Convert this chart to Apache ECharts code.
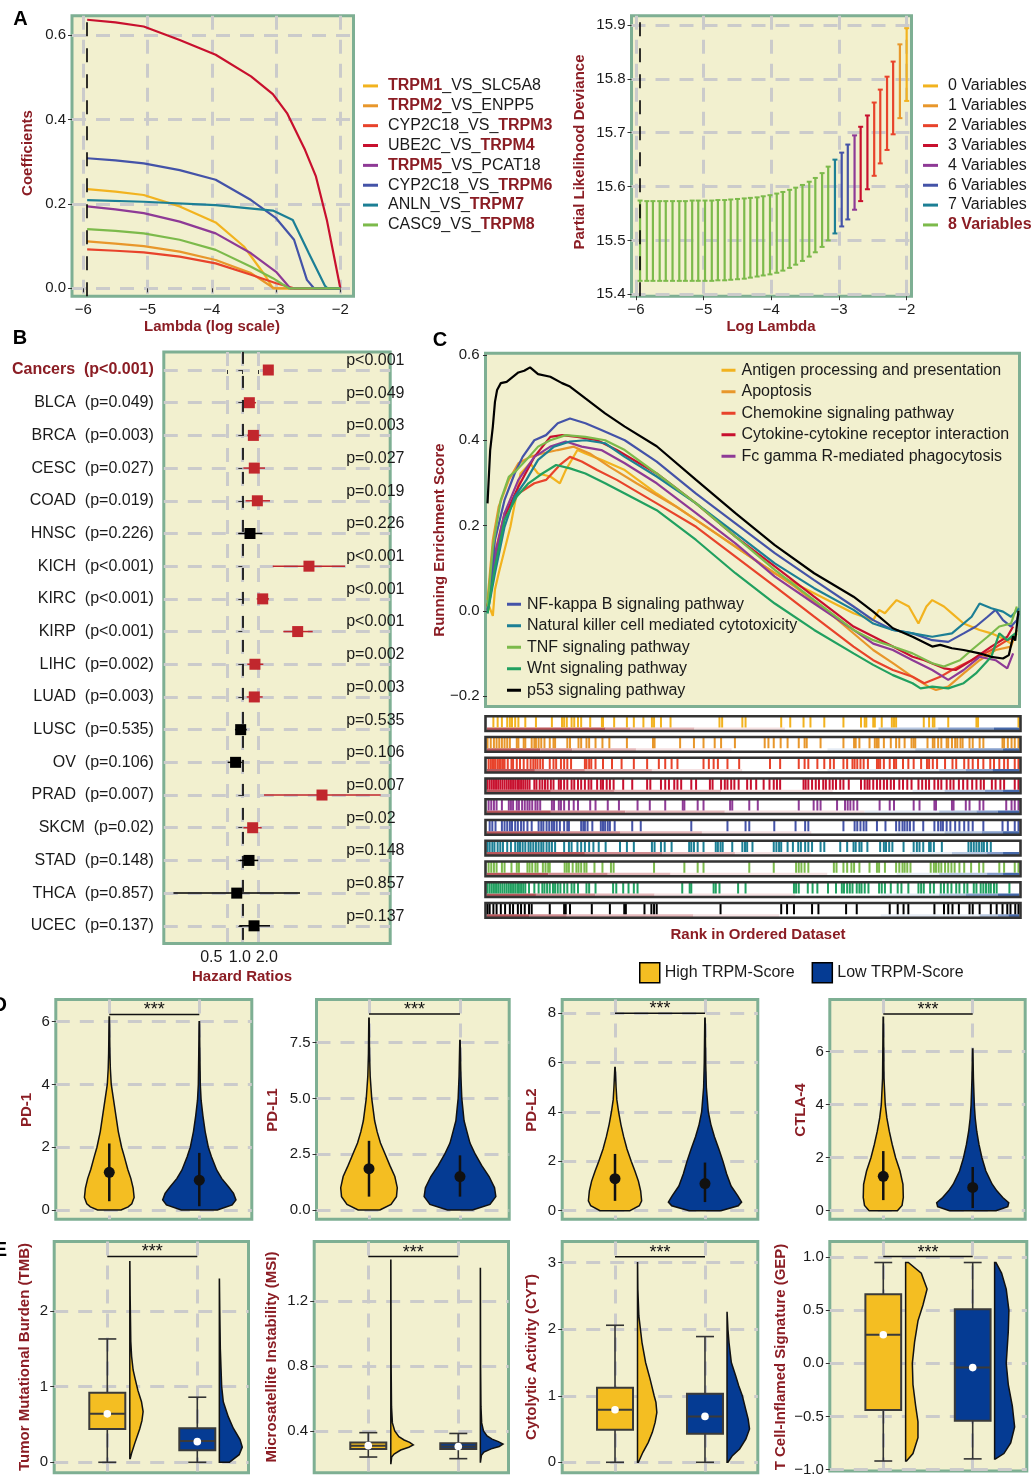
<!DOCTYPE html>
<html>
<head>
<meta charset="utf-8">
<title>TRPM figure</title>
<script src="https://cdn.jsdelivr.net/npm/echarts@6/dist/echarts.min.js"></script>
<style>
html,body{margin:0;padding:0;background:#ffffff;}
#chart{width:1034px;height:1477px;}
</style>
</head>
<body>
<div id="chart"></div>
<script>
/* ================= DATA ================= */
// ---- Panel A (left): LASSO coefficient paths [log(lambda), coefficient]
const coefNames = ['TRPM1_VS_SLC5A8','TRPM2_VS_ENPP5','CYP2C18_VS_TRPM3','UBE2C_VS_TRPM4','TRPM5_VS_PCAT18','CYP2C18_VS_TRPM6','ANLN_VS_TRPM7','CASC9_VS_TRPM8'];
const coefTRPM1 = [[-5.94,0.235],[-5.5,0.229],[-5.06,0.221],[-4.5,0.194],[-3.94,0.156],[-3.5,0.099],[-3.16,0.028],[-3.05,0],[-2,0]];
const coefTRPM2 = [[-5.94,0.111],[-5.5,0.106],[-5.06,0.100],[-4.5,0.087],[-3.94,0.067],[-3.39,0.036],[-3.05,0.002],[-3.0,0],[-2,0]];
const coefTRPM3 = [[-5.94,0.092],[-5.5,0.089],[-5.06,0.085],[-4.5,0.075],[-3.94,0.059],[-3.39,0.032],[-3.0,0.012],[-2.72,0],[-2,0]];
const coefTRPM4 = [[-5.94,0.636],[-5.5,0.630],[-5.06,0.620],[-4.5,0.588],[-3.94,0.553],[-3.39,0.502],[-3.05,0.460],[-2.83,0.415],[-2.55,0.328],[-2.38,0.265],[-2.21,0.162],[-2,0]];
const coefTRPM5 = [[-5.94,0.194],[-5.5,0.187],[-5.06,0.178],[-4.5,0.158],[-3.94,0.130],[-3.39,0.083],[-3.0,0.039],[-2.78,0],[-2,0]];
const coefTRPM6 = [[-5.94,0.308],[-5.5,0.303],[-5.06,0.296],[-4.5,0.280],[-3.94,0.257],[-3.39,0.209],[-3.0,0.166],[-2.72,0.115],[-2.52,0.020],[-2.41,0],[-2,0]];
const coefTRPM7 = [[-5.94,0.209],[-5.06,0.205],[-3.94,0.197],[-3.05,0.184],[-2.74,0.162],[-2.49,0.083],[-2.24,0.006],[-2.2,0],[-2,0]];
const coefTRPM8 = [[-5.94,0.140],[-5.5,0.136],[-5.06,0.130],[-4.5,0.115],[-3.94,0.091],[-3.39,0.051],[-3.05,0.024],[-2.8,0],[-2,0]];
const lambdaMin = -5.94;
const coefXTicks = [-6,-5,-4,-3,-2];
const coefYTicks = [0,0.2,0.4,0.6];

// ---- Panel A (right): cross-validation partial likelihood deviance
const cvLogLambda = [-5.94,-5.84,-5.75,-5.65,-5.56,-5.46,-5.36,-5.27,-5.17,-5.08,-4.98,-4.88,-4.79,-4.69,-4.60,-4.50,-4.40,-4.31,-4.21,-4.12,-4.02,-3.92,-3.83,-3.73,-3.64,-3.54,-3.44,-3.35,-3.25,-3.16,-3.06,-2.96,-2.87,-2.77,-2.68,-2.58,-2.48,-2.39,-2.29,-2.20,-2.10,-2.00];
const cvUpper = [15.574,15.573,15.573,15.573,15.573,15.573,15.573,15.573,15.574,15.574,15.574,15.574,15.575,15.575,15.576,15.577,15.578,15.579,15.580,15.582,15.584,15.587,15.590,15.594,15.598,15.603,15.609,15.616,15.625,15.637,15.650,15.663,15.678,15.695,15.711,15.732,15.756,15.780,15.804,15.832,15.864,15.894];
const cvLower = [15.425,15.425,15.425,15.425,15.425,15.425,15.425,15.425,15.425,15.425,15.425,15.425,15.426,15.426,15.427,15.428,15.429,15.431,15.433,15.435,15.437,15.440,15.444,15.449,15.455,15.462,15.470,15.478,15.488,15.500,15.513,15.526,15.539,15.557,15.573,15.595,15.620,15.643,15.668,15.697,15.727,15.759];
const cvNVars = [8,8,8,8,8,8,8,8,8,8,8,8,8,8,8,8,8,8,8,8,8,8,8,8,8,8,8,8,8,8,7,6,6,4,3,3,2,2,2,2,1,0];
const cvGroups = [0,1,2,3,4,6,7,8];
const cvYTicks = [15.4,15.5,15.6,15.7,15.8,15.9];

// ---- Panel B: forest plot
const forestNames = ['Cancers','BLCA','BRCA','CESC','COAD','HNSC','KICH','KIRC','KIRP','LIHC','LUAD','LUSC','OV','PRAD','SKCM','STAD','THCA','UCEC'];
const forestP = ['p<0.001','p=0.049','p=0.003','p=0.027','p=0.019','p=0.226','p<0.001','p<0.001','p<0.001','p=0.002','p=0.003','p=0.535','p=0.106','p=0.007','p=0.02','p=0.148','p=0.857','p=0.137'];
const forestHR   = [3.2,1.37,1.64,1.71,1.96,1.41,19.7,2.49,11.9,1.76,1.71,0.93,0.74,35.3,1.59,1.35,0.78,1.69];
const forestLow  = [2.64,1.09,1.25,1.05,1.16,0.84,3.9,1.90,6.26,1.25,1.22,0.72,0.52,2.64,1.05,0.90,0.046,0.87];
const forestHigh = [3.95,1.85,2.28,2.76,3.45,2.45,99,3.30,23.3,2.56,2.49,1.22,0.97,487,2.38,2.04,13.2,3.45];
const forestTickHR = [0.5,1,2];
const forestTickLabels = ['0.5','1.0','2.0'];

// ---- Panel C: GSEA running enrichment score [rank %, ES]
const gseaNames = ['Antigen processing and presentation','Apoptosis','Chemokine signaling pathway','Cytokine-cytokine receptor interaction','Fc gamma R-mediated phagocytosis','NF-kappa B signaling pathway','Natural killer cell mediated cytotoxicity','TNF signaling pathway','Wnt signaling pathway','p53 signaling pathway'];
const gseaAntigen = [[0.1,0.02],[1.1,-0.012],[1.5,0.05],[2.2,0.088],[4.4,0.197],[6.3,0.322],[8.1,0.346],[9.6,0.322],[11.9,0.315],[13.7,0.299],[14.8,0.33],[17.0,0.377],[18.5,0.369],[21.5,0.354],[25.9,0.33],[31.9,0.275],[39.3,0.213],[46.7,0.150],[54.1,0.088],[61.5,0.041],[68.9,-0.006],[72.6,-0.022],[73.7,0.002],[74.8,-0.006],[75.9,0.01],[77.0,0.025],[79.3,0.01],[81.1,-0.03],[82.6,0.01],[83.7,0.025],[85.9,0.01],[87.4,-0.006],[89.6,-0.03],[92.6,-0.045],[94.8,-0.053],[97.0,-0.065],[98.5,-0.077],[99.6,-0.053]];
const gseaApoptosis = [[0.1,0.025],[1.1,0.166],[2.2,0.244],[4.1,0.307],[5.9,0.346],[8.1,0.361],[10.4,0.369],[13.3,0.377],[16.3,0.385],[19.3,0.369],[23.0,0.338],[28.1,0.299],[35.6,0.244],[43.0,0.182],[50.4,0.119],[57.8,0.057],[65.2,-0.014],[72.6,-0.092],[76.3,-0.123],[80.0,-0.155],[83.0,-0.178],[84.4,-0.186],[86.7,-0.178],[89.6,-0.147],[92.6,-0.116],[95.6,-0.092],[98.5,-0.084],[99.6,-0.045]];
const gseaChemokine = [[0.1,0.01],[1.5,0.135],[3.3,0.229],[5.9,0.275],[8.9,0.299],[11.1,0.307],[13.7,0.342],[15.6,0.361],[17.8,0.35],[20.7,0.33],[24.4,0.307],[31.9,0.252],[39.3,0.197],[46.7,0.127],[54.1,0.057],[61.5,-0.014],[68.9,-0.084],[72.6,-0.116],[76.3,-0.139],[80.0,-0.155],[82.2,-0.170],[85.2,-0.155],[87.4,-0.139],[91.1,-0.116],[94.8,-0.092],[97.8,-0.069],[99.3,-0.061]];
const gseaCytokine = [[0.1,0.01],[1.5,0.119],[3.3,0.221],[5.9,0.291],[8.9,0.361],[11.9,0.408],[14.1,0.412],[17.0,0.408],[20.7,0.40],[24.4,0.377],[31.9,0.322],[39.3,0.252],[46.7,0.174],[54.1,0.104],[61.5,0.033],[68.9,-0.037],[76.3,-0.084],[80.0,-0.108],[82.2,-0.116],[85.9,-0.135],[88.1,-0.139],[91.1,-0.116],[94.8,-0.084],[97.8,-0.061],[98.9,-0.037]];
const gseaFc = [[0.1,0.002],[1.5,0.127],[3.3,0.229],[5.9,0.307],[8.9,0.361],[11.9,0.385],[14.8,0.397],[17.8,0.385],[21.5,0.377],[25.9,0.346],[31.9,0.299],[39.3,0.229],[46.7,0.158],[54.1,0.08],[61.5,0.017],[68.9,-0.045],[72.6,-0.077],[76.3,-0.092],[80.0,-0.116],[83.7,-0.139],[86.7,-0.162],[89.6,-0.139],[92.6,-0.108],[95.6,-0.116],[97.8,-0.135],[98.9,-0.10]];
const gseaNFkB = [[0.1,0.0],[0.4,0.025],[1.5,0.166],[3.3,0.26],[5.2,0.322],[6.7,0.361],[8.9,0.40],[11.1,0.412],[13.3,0.44],[15.6,0.451],[18.5,0.44],[21.5,0.424],[25.9,0.40],[31.9,0.35],[39.3,0.275],[46.7,0.205],[54.1,0.135],[61.5,0.072],[68.9,0.01],[72.6,-0.022],[76.3,-0.045],[80.0,-0.053],[83.7,-0.069],[86.7,-0.073],[89.6,-0.053],[91.9,-0.037],[94.1,-0.014],[95.6,0.002],[97.0,-0.022],[98.5,-0.037],[99.6,-0.022],[100,-0.006]];
const gseaNK = [[0.1,-0.006],[1.5,0.088],[3.3,0.197],[5.2,0.268],[7.4,0.307],[9.6,0.354],[12.6,0.385],[15.6,0.397],[18.5,0.40],[22.2,0.393],[25.9,0.361],[31.9,0.315],[39.3,0.252],[46.7,0.182],[54.1,0.111],[61.5,0.053],[68.9,0.002],[72.6,-0.03],[76.3,-0.045],[80.0,-0.053],[83.7,-0.061],[87.4,-0.053],[91.1,-0.014],[92.6,0.017],[94.8,0.006],[97.0,-0.002],[98.5,-0.014],[100,0.006]];
const gseaTNF = [[0.1,0.01],[1.1,0.15],[2.6,0.26],[4.1,0.314],[5.6,0.33],[7.4,0.354],[9.6,0.385],[11.9,0.40],[14.8,0.412],[18.5,0.408],[22.2,0.40],[25.9,0.377],[31.9,0.322],[39.3,0.252],[46.7,0.174],[54.1,0.096],[61.5,0.025],[68.9,-0.045],[72.6,-0.069],[76.3,-0.084],[80.0,-0.10],[83.7,-0.123],[85.9,-0.131],[88.9,-0.116],[91.1,-0.092],[94.1,-0.061],[96.3,-0.037],[98.5,-0.03],[99.6,0.01]];
const gseaWnt = [[0.1,-0.006],[1.5,0.103],[3.3,0.213],[5.6,0.268],[7.8,0.299],[10.4,0.322],[13.0,0.342],[15.6,0.334],[18.5,0.322],[22.2,0.299],[25.9,0.275],[31.9,0.236],[39.3,0.166],[46.7,0.088],[54.1,0.017],[61.5,-0.045],[68.9,-0.10],[72.6,-0.127],[76.3,-0.151],[80.0,-0.17],[81.5,-0.182],[83.7,-0.178],[86.7,-0.182],[89.6,-0.17],[91.9,-0.147],[94.8,-0.108],[96.3,-0.053],[97.8,-0.069],[99.3,-0.053]];
const gseaP53 = [[0.1,0.252],[0.6,0.377],[1.1,0.432],[1.5,0.49],[1.9,0.518],[2.6,0.534],[3.7,0.537],[4.8,0.548],[5.9,0.559],[7.0,0.563],[8.1,0.571],[9.6,0.555],[11.9,0.549],[14.1,0.534],[15.6,0.526],[18.5,0.498],[22.2,0.463],[25.9,0.432],[31.9,0.386],[39.3,0.307],[46.7,0.229],[54.1,0.154],[61.5,0.088],[68.9,0.033],[72.6,-0.002],[76.3,-0.041],[80.0,-0.061],[83.7,-0.084],[85.2,-0.080],[87.4,-0.088],[89.6,-0.092],[92.6,-0.100],[94.8,-0.108],[97.0,-0.112],[98.1,-0.104],[98.9,-0.06],[99.3,-0.07],[99.9,0.0]];
const gseaYTicks = [-0.2,0,0.2,0.4,0.6];

// gene-set hit positions (rank %) in the rug strips
const hitsAntigen = [1.2,2.0,2.8,3.8,4.3,4.7,5.3,5.9,7.2,9.2,12.2,14.1,14.5,15.0,15.9,16.4,17.1,17.7,19.4,21.6,21.8,23.9,26.3,27.6,29.4,31.0,31.4,32.7,34.5,43.7,44.2,48.0,48.6,55.3,57.0,59.5,60.8,63.4,67.0,70.3,71.0,71.3,72.6,72.9,74.2,76.1,76.5,76.9,82.1,83.1,83.8,84.1,86.7,92.0,92.3,99.9];
const hitsApoptosis = [0.1,0.7,1.3,1.8,2.3,2.8,3.3,3.8,4.3,5.6,5.9,6.9,7.2,8.4,8.9,9.2,9.7,10.2,10.8,11.8,12.5,12.8,15.1,15.6,17.2,17.7,18.7,19.2,20.4,21.7,23.0,26.3,31.2,31.5,36.3,38.9,40.7,42.8,44.0,46.6,52.2,52.9,53.9,55.2,56.5,58.6,59.7,60.1,62.7,67.0,69.0,69.3,70.0,71.9,72.9,73.3,73.6,74.6,75.9,76.9,77.5,78.5,79.8,80.2,80.5,82.8,83.8,84.1,84.8,85.4,86.4,86.7,87.4,88.0,88.4,89.0,89.4,90.7,91.3,92.6,93.3,96.9,97.2,97.9,98.6,99.2,99.9];
const hitsChemokine = [0.3,0.7,1.0,1.3,1.6,2.0,2.3,2.6,3.0,3.3,3.9,4.6,4.9,5.6,6.2,6.9,7.6,8.2,8.7,9.1,9.5,10.0,10.5,11.8,12.5,13.0,13.9,14.5,15.1,15.8,18.4,18.7,19.2,19.6,20.4,21.8,23.5,25.3,27.6,30.1,32.3,33.5,34.7,35.8,40.7,41.7,42.6,43.4,45.2,47.4,53.2,55.1,58.6,59.7,60.4,62.1,63.4,64.5,65.2,67.0,67.7,68.7,69.1,69.6,70.2,70.8,71.6,73.3,73.6,73.9,74.6,75.7,76.5,76.9,78.2,79.2,80.2,81.6,82.7,83.1,83.8,84.6,86.1,87.5,88.2,89.7,90.5,91.3,92.3,93.3,94.6,95.3,96.3,97.2,97.9,99.2,99.9];
const hitsCytokine = [0.1,0.5,0.9,1.3,1.7,2.1,2.5,2.9,3.3,3.7,4.1,4.5,4.9,5.3,5.7,6.0,6.4,6.8,7.2,7.6,8.0,8.9,9.3,9.9,10.4,10.9,11.4,12.0,12.5,13.5,13.9,14.5,15.1,15.9,16.4,17.1,17.7,18.4,19.1,19.6,20.7,21.4,21.8,22.5,23.1,23.8,25.6,27.3,30.1,30.7,32.7,33.5,34.2,35.2,35.8,36.5,38.4,39.3,41.9,42.4,44.0,44.7,45.2,45.9,46.5,47.3,48.9,49.6,50.6,52.0,53.1,53.9,54.5,55.1,59.5,59.9,60.4,61.1,61.8,62.4,63.2,63.7,64.4,65.0,65.6,66.4,67.0,68.0,70.3,71.0,71.5,71.9,72.6,73.3,73.9,74.6,75.2,75.9,76.5,77.5,78.2,79.0,79.8,81.1,81.8,82.5,83.1,84.1,84.8,85.4,86.4,87.1,87.7,88.7,89.5,90.3,91.2,92.0,92.8,93.4,94.9,95.6,96.5,97.2,99.2,99.9];
const hitsFc = [0.3,0.8,1.3,1.8,2.8,4.1,4.5,4.9,5.6,6.0,6.6,7.1,7.6,8.0,8.5,9.1,9.5,10.0,12.2,12.6,13.5,13.9,14.5,15.4,16.3,17.1,19.4,20.4,22.7,24.8,28.3,30.6,33.5,36.8,37.1,39.6,40.7,45.7,46.1,49.3,50.9,58.6,61.4,62.1,62.7,65.8,67.3,67.8,68.3,68.9,69.6,73.8,75.7,76.5,80.2,81.3,84.1,84.4,87.4,87.7,90.0,90.7,92.6,93.3,97.6,98.6,99.2,99.9];
const hitsNFkB = [0.5,1.0,1.6,2.8,3.3,3.8,4.3,4.7,5.3,5.8,6.4,6.9,7.6,8.4,9.7,10.2,10.6,11.2,11.7,12.2,12.6,13.1,13.7,14.5,15.1,15.4,17.7,18.1,18.4,18.9,19.8,21.4,21.8,22.2,22.7,23.1,24.0,27.3,28.9,38.4,45.2,48.6,49.3,54.0,58.0,59.8,60.4,67.0,69.1,69.6,70.2,70.8,71.3,73.3,74.9,76.9,77.5,78.1,78.5,79.0,79.5,80.2,82.0,84.1,84.8,85.3,85.7,86.4,87.1,88.0,88.8,89.7,90.5,91.3,93.3,96.9,97.9,99.2,99.9];
const hitsNK = [0.1,0.5,1.0,1.4,2.0,2.5,3.0,3.8,4.5,5.3,5.8,6.2,6.7,7.2,7.8,8.2,8.7,9.2,9.7,10.2,10.6,11.2,11.7,12.2,12.8,14.5,15.4,15.9,17.0,17.7,18.4,19.2,20.0,21.0,22.3,25.0,26.3,27.6,31.0,31.5,32.7,33.4,34.7,38.0,38.4,38.9,39.6,40.7,43.0,43.4,43.9,44.3,46.1,48.0,48.5,48.9,49.9,53.9,54.4,54.9,55.3,56.5,57.5,58.5,59.0,59.8,60.4,61.1,62.7,63.4,66.4,67.7,68.9,69.3,70.0,70.4,71.5,73.9,74.6,75.0,75.6,76.2,78.3,80.2,80.8,81.3,82.0,83.1,83.4,84.0,85.5,90.5,91.0,91.5,92.0,92.5,93.0,93.4,94.0,94.7];
const hitsTNF = [0.3,0.8,1.3,1.8,2.8,3.3,4.6,5.6,6.0,7.6,8.0,8.5,9.1,9.5,10.5,11.0,11.5,11.8,14.6,15.0,15.4,16.1,16.8,17.2,17.7,18.3,18.7,20.2,21.7,23.3,23.8,31.4,37.1,39.6,40.7,49.3,53.9,58.1,58.6,59.1,59.7,60.4,65.2,65.7,67.0,67.7,68.5,69.0,70.0,71.9,73.3,73.7,74.8,76.9,77.5,78.1,78.5,79.0,79.6,83.4,84.0,84.4,84.9,85.4,86.1,86.7,87.3,87.9,88.8,89.7,91.0,92.5,93.3,96.3,97.2,99.2,99.9];
const hitsWnt = [0.1,0.5,0.9,1.3,1.7,2.1,2.5,2.9,3.3,3.7,4.1,4.5,4.9,5.3,5.7,6.0,6.4,6.8,7.2,7.9,8.9,9.7,10.4,10.8,11.3,11.8,12.4,12.8,13.3,13.8,14.5,15.1,15.9,16.4,17.1,18.7,19.2,20.4,23.7,24.3,25.6,26.6,27.6,28.3,36.7,38.1,38.4,42.6,43.0,43.7,47.2,48.6,57.7,58.1,58.6,60.3,61.2,62.1,64.1,65.6,66.7,67.1,67.7,68.2,68.7,69.5,70.0,70.4,71.0,71.7,73.7,74.2,74.8,75.9,77.2,77.9,79.2,81.1,81.6,82.1,83.3,84.0,85.3,85.9,86.6,87.3,88.2,88.8,89.7,90.3,91.5,92.0,92.8,93.3,93.8,94.3,94.7,95.3,95.8,98.2];
const hitsP53 = [0.1,0.5,1.2,1.8,2.6,3.4,4.3,4.9,5.8,6.4,7.1,7.9,8.4,11.8,14.5,14.8,15.6,19.7,23.1,25.8,26.1,29.6,30.9,31.4,31.9,43.9,55.3,56.4,57.7,61.1,62.3,67.5,69.5,75.7,77.2,78.3,79.2,84.1,85.9,86.7,87.5,88.7,90.7,91.3,92.6,94.7,95.8,96.9,97.8,98.4,99.3,99.9];
// ranked-list shading: end (rank %) of each of the 9 shades, per strip
const rugShadeBreaks = [
  [22.3,27,39,56,73.6,73.6,84.8,95.3],
  [10,16,28,46,64,80.5,90.7,97],
  [9,18.4,31,48,64,85,90,95],
  [12,24,44,65,80,86,93.6,97],
  [12,26,44.7,71,71,85,92,96],
  [13.8,25,40.4,61,77,86,93,97],
  [18.4,33,46.6,61,79.5,87.4,94,97],
  [11.5,22.7,34.5,64,77,85,94,97],
  [9.2,20.4,31.5,58,74,85,90,96],
  [7.9,15,38.8,55,74,92.6,96,98]
];

// ---- Panel D: immune checkpoints, violins [value, half-width]; stats [median, low, high]
const groupNames = ['High TRPM-Score','Low TRPM-Score'];
const pd1HighDens = [[0,0.13],[0.1,0.21],[0.2,0.25],[0.4,0.276],[0.7,0.265],[1.0,0.24],[1.3,0.205],[1.7,0.167],[2.0,0.137],[2.5,0.1],[3.0,0.074],[3.5,0.048],[4.0,0.022],[4.5,0.012],[5.0,0.007],[6.15,0.002]];
const pd1LowDens = [[0,0.2],[0.16,0.365],[0.32,0.407],[0.53,0.38],[0.74,0.324],[1.0,0.25],[1.27,0.194],[1.7,0.135],[2.0,0.1],[2.5,0.065],[3.0,0.04],[3.5,0.02],[4.0,0.011],[5.0,0.006],[6.0,0.002]];
const pdl1HighDens = [[0,0.119],[0.25,0.242],[0.6,0.302],[1.0,0.311],[1.5,0.284],[2.0,0.229],[2.5,0.178],[3.0,0.126],[3.5,0.09],[4.0,0.062],[5.0,0.03],[6.0,0.013],[7.0,0.006],[8.6,0.002]];
const pdl1LowDens = [[0,0.137],[0.25,0.33],[0.6,0.394],[1.0,0.38],[1.5,0.32],[2.0,0.238],[2.5,0.168],[3.0,0.11],[3.5,0.077],[4.0,0.045],[5.0,0.02],[6.0,0.01],[7.6,0.002]];
const pdl2HighDens = [[0,0.167],[0.2,0.27],[0.4,0.296],[0.8,0.285],[1.2,0.26],[1.6,0.222],[2.0,0.18],[2.5,0.133],[3.0,0.096],[3.5,0.065],[4.0,0.04],[4.5,0.02],[5.0,0.012],[5.8,0.002]];
const pdl2LowDens = [[0,0.176],[0.2,0.37],[0.35,0.407],[0.6,0.365],[1.0,0.29],[1.5,0.24],[2.0,0.2],[2.5,0.154],[3.0,0.105],[3.5,0.065],[4.0,0.037],[5.0,0.015],[6.0,0.008],[7.8,0.002]];
const ctla4HighDens = [[0,0.158],[0.2,0.21],[0.5,0.224],[1.0,0.22],[1.5,0.187],[2.0,0.138],[2.5,0.1],[3.0,0.067],[3.5,0.04],[4.0,0.022],[5.0,0.008],[7.3,0.002]];
const ctla4LowDens = [[0,0.26],[0.15,0.392],[0.3,0.403],[0.5,0.336],[0.75,0.27],[1.0,0.218],[1.5,0.147],[2.0,0.103],[2.5,0.07],[3.0,0.045],[3.5,0.028],[4.0,0.018],[5.0,0.008],[6.1,0.002]];
const pd1HighStat = [1.2,0.28,2.12],   pd1LowStat = [0.95,0.12,1.82];
const pdl1HighStat = [1.85,0.6,3.1],   pdl1LowStat = [1.5,0.6,2.45];
const pdl2HighStat = [1.3,0.4,2.3],    pdl2LowStat = [1.1,0.35,1.95];
const ctla4HighStat = [1.3,0.4,2.25],  ctla4LowStat = [0.88,0.1,1.65];
const immuneNames = ['PD-1','PD-L1','PD-L2','CTLA-4'];
const immuneSig = [6.23,8.79,8.0,7.42];
const pd1Ticks = [0,2,4,6], pdl1Ticks = [0,2.5,5,7.5], pdl2Ticks = [0,2,4,6,8], ctla4Ticks = [0,2,4,6];

// ---- Panel E: immunotherapy scores, box [lowWhisker, Q1, median, Q3, highWhisker, mean]; half violins [value, width]
const tmbHighBox = [0,0.44,0.64,0.92,1.63,0.64],     tmbLowBox = [0,0.16,0.28,0.45,0.86,0.273];
const msiHighBox = [0.24,0.29,0.31,0.33,0.39,0.31],  msiLowBox = [0.23,0.29,0.305,0.325,0.385,0.305];
const cytHighBox = [0,0.49,0.79,1.12,2.06,0.79],     cytLowBox = [0,0.43,0.69,1.03,1.89,0.69];
const gepHighBox = [-0.92,-0.44,0.27,0.65,0.95,0.27], gepLowBox = [-0.9,-0.54,-0.04,0.51,0.95,-0.04];
const tmbHighDens = [[0.05,0.005],[0.12,0.02],[0.25,0.055],[0.44,0.11],[0.55,0.135],[0.67,0.148],[0.8,0.13],[0.95,0.09],[1.1,0.06],[1.22,0.037],[1.4,0.02],[1.6,0.011],[2.2,0.004],[2.65,0.001]];
const tmbLowDens = [[0,0.11],[0.1,0.22],[0.2,0.255],[0.3,0.23],[0.45,0.155],[0.6,0.1],[0.8,0.044],[1.0,0.026],[1.5,0.011],[2.0,0.005],[2.42,0.001]];
const msiHighDens = [[0.2,0.002],[0.24,0.01],[0.258,0.037],[0.283,0.11],[0.3,0.2],[0.314,0.25],[0.33,0.21],[0.345,0.148],[0.365,0.09],[0.4,0.044],[0.45,0.018],[0.55,0.008],[0.8,0.004],[1.45,0.001]];
const msiLowDens = [[0.21,0.002],[0.25,0.012],[0.27,0.04],[0.29,0.12],[0.305,0.21],[0.32,0.252],[0.335,0.2],[0.35,0.13],[0.37,0.075],[0.4,0.035],[0.45,0.015],[0.55,0.007],[0.8,0.003],[1.4,0.001]];
const cytHighDens = [[0,0.01],[0.15,0.06],[0.3,0.12],[0.45,0.165],[0.6,0.196],[0.75,0.215],[0.9,0.205],[1.0,0.185],[1.25,0.14],[1.5,0.09],[1.8,0.05],[2.2,0.015],[2.6,0.004],[3.0,0.001]];
const cytLowDens = [[0,0.01],[0.1,0.06],[0.2,0.14],[0.35,0.21],[0.5,0.25],[0.65,0.235],[0.8,0.207],[1.0,0.17],[1.15,0.13],[1.3,0.096],[1.5,0.048],[1.8,0.022],[2.0,0.01],[2.25,0.001]];
const gepHighDens = [[-0.92,0.01],[-0.85,0.082],[-0.7,0.138],[-0.55,0.138],[-0.4,0.112],[-0.2,0.082],[0,0.075],[0.2,0.1],[0.4,0.138],[0.55,0.194],[0.7,0.24],[0.85,0.175],[0.95,0.03]];
const gepLowDens = [[-0.9,0.01],[-0.85,0.104],[-0.75,0.18],[-0.6,0.224],[-0.4,0.198],[-0.2,0.153],[0,0.13],[0.3,0.153],[0.5,0.16],[0.7,0.13],[0.85,0.078],[0.95,0.015]];
const scoreNames = ['Tumor Mutational Burden (TMB)','Microsatellite Instability (MSI)','Cytolytic Activity (CYT)','T Cell-Inflamed Signature (GEP)'];
const scoreSig = [2.72,1.473,3.09,1.006];
const tmbTicks = [0,1,2], msiTicks = [0.4,0.8,1.2], cytTicks = [0,1,2,3], gepTicks = [-1,-0.5,0,0.5,1];

/* ================= STYLE ================= */
const FF = '"Liberation Sans", Arial, Helvetica, sans-serif';
const TXT = '#1a1a1a';
const TITLE = '#8b1d24';
const PANEL_BG = '#f2f0cf';
const PANEL_BORDER = '#7eaf93';
const GRIDLINE = '#cbcbcb';
const YEL = '#f4be22', BLU = '#053b93';
const pathColors = ['#f2b31f','#e8972b','#e8432b','#c8102e','#8e3a96','#4453a8','#1c7f95','#7cba4b'];
const gseaColors = ['#f2b31f','#e8972b','#e8432b','#c8102e','#8e3a96','#4453a8','#1c7f95','#7cba4b','#21a060','#000000'];
const shadePalette = ['#b9565b','#d28c90','#e6b9bb','#f5e1e2','#ffffff','#e6ecf5','#b8c8e1','#87a0cd','#4669aa'];

const fmtN = d => v => (v < -1e-9 ? '\u2212' : '') + Math.abs(v).toFixed(d);
const dashed = {color: GRIDLINE, width: 3, type: [14, 10]};

function gridBox(left, top, width, height, show) {
  return {left, top, width, height, show: show !== false, backgroundColor: PANEL_BG, borderColor: PANEL_BORDER, borderWidth: 3, containLabel: false};
}
function axis(gi, min, max, ticks, fmt, opt) {
  opt = opt || {};
  return {
    type: 'value', gridIndex: gi, min, max, inverse: !!opt.inverse,
    axisLine: {show: false},
    axisTick: {show: opt.tick !== false, length: 4, lineStyle: {color: '#333', width: 1}, customValues: ticks},
    axisLabel: {show: opt.label !== false, customValues: ticks, formatter: fmt, color: TXT, fontSize: opt.fontSize || 15, margin: opt.margin || 6, fontFamily: FF, rich: opt.rich},
    splitLine: {show: opt.split !== false, lineStyle: dashed}
  };
}
function hidden(gi, min, max, inverse) {
  return {type: 'value', gridIndex: gi, min, max, inverse: !!inverse, show: false, axisLine:{show:false}, axisTick:{show:false}, axisLabel:{show:false}, splitLine:{show:false}};
}

/* ================= GRIDS & AXES ================= */
const grids = [
  gridBox(72, 15.8, 281.5, 280.4),       // 0 A left
  gridBox(631.5, 15.8, 280, 280.4),      // 1 A right
  gridBox(163.8, 351.9, 226.4, 591.6),   // 2 B
  gridBox(485.5, 353.2, 534, 353.3),     // 3 C
  gridBox(487, 714.5, 532, 207.5, false),// 4 C rugs
  gridBox(55.8, 999.5, 196, 219.7),      // 5 D1
  gridBox(316.5, 999.5, 192.7, 219.7),   // 6 D2
  gridBox(562.2, 999.5, 195.6, 219.7),   // 7 D3
  gridBox(829.8, 999.5, 195.4, 219.7),   // 8 D4
  gridBox(54.2, 1241.5, 194.3, 231.3),   // 9 E1
  gridBox(314.2, 1241.5, 194.3, 231.3),  // 10 E2
  gridBox(562.2, 1241.5, 195.6, 231.3),  // 11 E3
  gridBox(829.8, 1241.5, 197, 231.3)     // 12 E4
];

const forestTickVals = forestTickHR.map(h => Math.log2(h));
const rowIdx = forestNames.map((n, i) => i);
const xAxes = [
  axis(0, -6.176, -1.795, coefXTicks, fmtN(0)),
  axis(1, -6.0665, -1.9286, coefXTicks, fmtN(0)),
  axis(2, -5.065, 9.542, forestTickVals, v => {
      const i = forestTickVals.findIndex(t => Math.abs(t - v) < 1e-9);
      return '{t' + i + '|' + forestTickLabels[i] + '}';
    }, {fontSize: 16, margin: 6, rich: {
      t0: {fontSize: 16, fontFamily: FF, color: TXT, padding: [0, 31, 0, 0]},
      t1: {fontSize: 16, fontFamily: FF, color: TXT, padding: [0, 5, 0, 0]},
      t2: {fontSize: 16, fontFamily: FF, color: TXT, padding: [0, 0, 0, 18]}}}),
  hidden(3, -0.28, 100.1),
  hidden(4, 0, 100),
  axis(5, 0.406, 2.583, [1,2], null, {tick:false, label:false}),
  axis(6, 0.423, 2.541, [1,2], null, {tick:false, label:false}),
  axis(7, 0.413, 2.587, [1,2], null, {tick:false, label:false}),
  axis(8, 0.402, 2.587, [1,2], null, {tick:false, label:false}),
  axis(9, 0.41, 2.569, [1,2], null, {tick:false, label:false}),
  axis(10, 0.399, 2.558, [1,2], null, {tick:false, label:false}),
  axis(11, 0.413, 2.587, [1,2], null, {tick:false, label:false}),
  axis(12, 0.402, 2.605, [1,2], null, {tick:false, label:false})
];
const yAxes = [
  axis(0, -0.0187, 0.6454, coefYTicks, fmtN(1)),
  axis(1, 15.3965, 15.917, cvYTicks, fmtN(1)),
  axis(2, -0.554, 17.541, rowIdx, v => {
      const i = Math.round(v);
      const s = forestNames[i] + '  (' + forestP[i] + ')';
      return i === 0 ? '{r|' + s + '}' : s;
    }, {inverse: true, fontSize: 16, margin: 10, rich: {r: {fontSize: 16, fontFamily: FF, fontWeight: 'bold', color: TITLE}}}),
  axis(3, -0.2246, 0.6042, gseaYTicks, fmtN(1), {split: false}),
  hidden(4, 0, 10, true),
  axis(5, -0.293, 6.708, pd1Ticks, fmtN(0)),
  axis(6, -0.412, 9.435, pdl1Ticks, fmtN(1)),
  axis(7, -0.344, 8.559, pdl2Ticks, fmtN(0)),
  axis(8, -0.32, 7.97, ctla4Ticks, fmtN(0)),
  axis(9, -0.139, 2.918, tmbTicks, fmtN(0)),
  axis(10, 0.143, 1.566, msiTicks, fmtN(1)),
  axis(11, -0.158, 3.319, cytTicks, fmtN(0)),
  axis(12, -1.014, 1.148, gepTicks, fmtN(1))
];

/* ================= SERIES ================= */
const series = [];
const blackDash = {color: '#000', width: 1.6, type: [14, 12]};

// A left
const coefPaths = [coefTRPM1, coefTRPM2, coefTRPM3, coefTRPM4, coefTRPM5, coefTRPM6, coefTRPM7, coefTRPM8];
coefNames.forEach((n, i) => {
  const s = {type: 'line', name: n, xAxisIndex: 0, yAxisIndex: 0, data: coefPaths[i], symbol: 'none', showSymbol: false,
    lineStyle: {color: pathColors[i], width: 2.2}, itemStyle: {color: pathColors[i]}, silent: true, z: 3};
  if (i === 0) s.markLine = {symbol: 'none', silent: true, label: {show: false}, lineStyle: blackDash, data: [{xAxis: lambdaMin}]};
  series.push(s);
});

// A right
const cvNames = cvGroups.map(g => g + ' Variables');
cvGroups.forEach((g, gi) => {
  const data = [];
  cvLogLambda.forEach((x, i) => { if (cvNVars[i] === g) data.push([x, cvLower[i], cvUpper[i]]); });
  const c = pathColors[gi];
  const s = {type: 'custom', name: cvNames[gi], xAxisIndex: 1, yAxisIndex: 1, itemStyle: {color: c}, encode: {x: 0, y: [1, 2]}, data, silent: true, z: 3,
    renderItem: (params, api) => {
      const top = api.coord([api.value(0), api.value(2)]);
      const bot = api.coord([api.value(0), api.value(1)]);
      return {type: 'group', children: [
        {type: 'line', shape: {x1: top[0], y1: top[1], x2: bot[0], y2: bot[1]}, style: {stroke: c, lineWidth: 2.2}},
        {type: 'line', shape: {x1: top[0] - 2.5, y1: top[1], x2: top[0] + 2.5, y2: top[1]}, style: {stroke: c, lineWidth: 2}},
        {type: 'line', shape: {x1: bot[0] - 2.5, y1: bot[1], x2: bot[0] + 2.5, y2: bot[1]}, style: {stroke: c, lineWidth: 2}}
      ]};
    }};
  if (gi === 0) s.markLine = {symbol: 'none', silent: true, label: {show: false}, lineStyle: blackDash, data: [{xAxis: lambdaMin}]};
  series.push(s);
});

// B forest
const forestSig = forestP.map(p => parseFloat(p.slice(2)) < 0.05);
series.push({
  type: 'custom', xAxisIndex: 2, yAxisIndex: 2, silent: true, z: 3, clip: false,
  encode: {x: 0, y: 1},
  data: forestNames.map((n, i) => [Math.log2(forestHR[i]), i, Math.log2(forestLow[i]), Math.log2(forestHigh[i])]),
  markLine: {symbol: 'none', silent: true, label: {show: false}, lineStyle: {color: '#000', width: 1.6, type: [12, 12]}, data: [{xAxis: 0}]},
  renderItem: (params, api) => {
    const i = params.dataIndex;
    const cs = params.coordSys;
    const c = api.coord([api.value(0), i]);
    const l = api.coord([api.value(2), i]);
    const h = api.coord([api.value(3), i]);
    const col = forestSig[i] ? '#c1272d' : '#000000';
    return {type: 'group', children: [
      {type: 'line', shape: {x1: l[0], y1: c[1], x2: Math.min(h[0], cs.x + cs.width), y2: c[1]}, style: {stroke: col, lineWidth: 1.5}},
      {type: 'rect', shape: {x: c[0] - 5.5, y: c[1] - 5.5, width: 11, height: 11}, style: {fill: col}},
      {type: 'text', style: {text: forestP[i], x: cs.x + cs.width - 44, y: c[1] - 9.5, fill: TXT, fontSize: 16, fontFamily: FF, verticalAlign: 'middle', align: 'left'}}
    ]};
  }
});

// C running enrichment score
const gseaCurves = [gseaAntigen, gseaApoptosis, gseaChemokine, gseaCytokine, gseaFc, gseaNFkB, gseaNK, gseaTNF, gseaWnt, gseaP53];
gseaNames.forEach((n, i) => {
  series.push({type: 'line', name: n, xAxisIndex: 3, yAxisIndex: 3, data: gseaCurves[i], symbol: 'none', showSymbol: false,
    lineStyle: {color: gseaColors[i], width: 2.2}, itemStyle: {color: gseaColors[i]}, silent: true, z: 3});
});

// C rug strips
const rugHits = [hitsAntigen, hitsApoptosis, hitsChemokine, hitsCytokine, hitsFc, hitsNFkB, hitsNK, hitsTNF, hitsWnt, hitsP53];
series.push({
  type: 'custom', xAxisIndex: 4, yAxisIndex: 4, silent: true, z: 3, clip: false,
  data: gseaNames.map((n, k) => [0, k]),
  renderItem: (params, api) => {
    const k = params.dataIndex;
    const x0 = api.coord([0, k])[0], x1 = api.coord([100, k])[0];
    const yT = api.coord([0, k + 0.084])[1], yB = api.coord([0, k + 0.798])[1];
    const yBand = yT + (yB - yT) * 0.76;
    const ch = [{type: 'rect', shape: {x: x0 - 1.5, y: yT, width: x1 - x0 + 3, height: yB - yT}, style: {fill: '#ffffff'}}];
    const br = rugShadeBreaks[k];
    for (let j = 0; j < 9; j++) {
      const s = j === 0 ? 0 : br[j - 1];
      const e = j === 8 ? 100 : br[j];
      if (e <= s) continue;
      const xs = api.coord([s, k])[0], xe = api.coord([e, k])[0];
      ch.push({type: 'rect', shape: {x: xs, y: yBand, width: xe - xs, height: yB - yBand}, style: {fill: shadePalette[j]}});
    }
    rugHits[k].forEach(h => {
      const x = api.coord([h, k])[0];
      ch.push({type: 'line', shape: {x1: x, y1: yT, x2: x, y2: yBand}, style: {stroke: gseaColors[k], lineWidth: 2}});
    });
    ch.push({type: 'rect', shape: {x: x0 - 1.5, y: yT, width: x1 - x0 + 3, height: yB - yT}, style: {fill: 'none', stroke: '#333333', lineWidth: 2.6}});
    return {type: 'group', children: ch};
  }
});

// D violins
function violinRender(dens, cat, color, stat) {
  return (params, api) => {
    const pts = [];
    for (let i = 0; i < dens.length; i++) pts.push(api.coord([cat + dens[i][1], dens[i][0]]));
    for (let i = dens.length - 1; i >= 0; i--) pts.push(api.coord([cat - dens[i][1], dens[i][0]]));
    const lo = api.coord([cat, stat[1]]), hi = api.coord([cat, stat[2]]), md = api.coord([cat, stat[0]]);
    return {type: 'group', children: [
      {type: 'polygon', shape: {points: pts}, style: {fill: color, stroke: '#111', lineWidth: 1.5}},
      {type: 'line', shape: {x1: lo[0], y1: lo[1], x2: hi[0], y2: hi[1]}, style: {stroke: '#111', lineWidth: 2.5}},
      {type: 'circle', shape: {cx: md[0], cy: md[1], r: 5.5}, style: {fill: '#111'}}
    ]};
  };
}
function sigRender(s) {
  return (params, api) => {
    const a = api.coord([1, s]), b = api.coord([2, s]);
    return {type: 'group', children: [
      {type: 'line', shape: {x1: a[0], y1: a[1], x2: b[0], y2: b[1]}, style: {stroke: '#111', lineWidth: 1.5}},
      {type: 'text', style: {text: '***', x: (a[0] + b[0]) / 2, y: a[1] - 13, fill: '#111', fontSize: 18, fontFamily: FF, align: 'center', verticalAlign: 'top'}}
    ]};
  };
}
const dPanels = [
  [pd1HighDens, pd1LowDens, pd1HighStat, pd1LowStat],
  [pdl1HighDens, pdl1LowDens, pdl1HighStat, pdl1LowStat],
  [pdl2HighDens, pdl2LowDens, pdl2HighStat, pdl2LowStat],
  [ctla4HighDens, ctla4LowDens, ctla4HighStat, ctla4LowStat]
];
dPanels.forEach((p, k) => {
  const gi = 5 + k;
  series.push({type: 'custom', name: groupNames[0], xAxisIndex: gi, yAxisIndex: gi, itemStyle: {color: YEL}, data: [[1, p[2][0]]], renderItem: violinRender(p[0], 1, YEL, p[2]), silent: true, z: 3});
  series.push({type: 'custom', name: groupNames[1], xAxisIndex: gi, yAxisIndex: gi, itemStyle: {color: BLU}, data: [[2, p[3][0]]], renderItem: violinRender(p[1], 2, BLU, p[3]), silent: true, z: 3});
  series.push({type: 'custom', xAxisIndex: gi, yAxisIndex: gi, data: [[1.5, immuneSig[k]]], renderItem: sigRender(immuneSig[k]), silent: true, z: 4, clip: false});
});

// E raincloud (box + half violin)
function rainRender(box, dens, cat, off, color) {
  return (params, api) => {
    const C = v => api.coord(v);
    const lo = box[0], q1 = box[1], md = box[2], q3 = box[3], hi = box[4], mean = box[5];
    const base = cat + off;
    const pts = [];
    for (let i = 0; i < dens.length; i++) pts.push(C([base + dens[i][1], dens[i][0]]));
    pts.push(C([base, dens[dens.length - 1][0]]));
    pts.push(C([base, dens[0][0]]));
    const pLo = C([cat, lo]), pHi = C([cat, hi]);
    const cLoL = C([cat - 0.1, lo]), cLoR = C([cat + 0.1, lo]), cHiL = C([cat - 0.1, hi]), cHiR = C([cat + 0.1, hi]);
    const bTL = C([cat - 0.2, q3]), bBR = C([cat + 0.2, q1]);
    const mL = C([cat - 0.2, md]), mR = C([cat + 0.2, md]);
    const pm = C([cat, mean]);
    const st = {stroke: '#333', lineWidth: 1.6};
    return {type: 'group', children: [
      {type: 'polygon', shape: {points: pts}, style: {fill: color, stroke: '#111', lineWidth: 1.5}},
      {type: 'line', shape: {x1: pLo[0], y1: pLo[1], x2: pHi[0], y2: pHi[1]}, style: st},
      {type: 'line', shape: {x1: cLoL[0], y1: cLoL[1], x2: cLoR[0], y2: cLoR[1]}, style: st},
      {type: 'line', shape: {x1: cHiL[0], y1: cHiL[1], x2: cHiR[0], y2: cHiR[1]}, style: st},
      {type: 'rect', shape: {x: bTL[0], y: bTL[1], width: bBR[0] - bTL[0], height: bBR[1] - bTL[1]}, style: {fill: color, stroke: '#3a3a3a', lineWidth: 2}},
      {type: 'line', shape: {x1: mL[0], y1: mL[1], x2: mR[0], y2: mR[1]}, style: {stroke: '#3a3a3a', lineWidth: 2}},
      {type: 'circle', shape: {cx: pm[0], cy: pm[1], r: 3.8}, style: {fill: '#ffffff'}}
    ]};
  };
}
const ePanels = [
  [tmbHighBox, tmbLowBox, tmbHighDens, tmbLowDens],
  [msiHighBox, msiLowBox, msiHighDens, msiLowDens],
  [cytHighBox, cytLowBox, cytHighDens, cytLowDens],
  [gepHighBox, gepLowBox, gepHighDens, gepLowDens]
];
ePanels.forEach((p, k) => {
  const gi = 9 + k;
  series.push({type: 'custom', name: groupNames[0], xAxisIndex: gi, yAxisIndex: gi, itemStyle: {color: YEL}, data: [[1, p[0][2]]], renderItem: rainRender(p[0], p[2], 1, 0.25, YEL), silent: true, z: 3});
  series.push({type: 'custom', name: groupNames[1], xAxisIndex: gi, yAxisIndex: gi, itemStyle: {color: BLU}, data: [[2, p[1][2]]], renderItem: rainRender(p[1], p[3], 2, 0.245, BLU), silent: true, z: 3});
  series.push({type: 'custom', xAxisIndex: gi, yAxisIndex: gi, data: [[1.5, scoreSig[k]]], renderItem: sigRender(scoreSig[k]), silent: true, z: 4, clip: false});
});

/* ================= LEGENDS ================= */
const legBase = {selectedMode: false, orient: 'vertical', icon: 'rect', itemGap: 0, padding: 0};
const legends = [
  Object.assign({}, legBase, {left: 363, top: 76, itemWidth: 15, itemHeight: 3, data: coefNames,
    formatter: n => n.replace(/(TRPM\d)/, '{r|$1}'),
    textStyle: {fontSize: 16, lineHeight: 19.86, color: TXT, fontFamily: FF, padding: [0, 0, 0, 5],
      rich: {r: {fontSize: 16, lineHeight: 19.86, fontWeight: 'bold', color: TITLE, fontFamily: FF}}}}),
  Object.assign({}, legBase, {left: 923, top: 76, itemWidth: 15, itemHeight: 3, data: cvNames,
    formatter: n => n === '8 Variables' ? '{r|' + n + '}' : n,
    textStyle: {fontSize: 16, lineHeight: 19.86, color: TXT, fontFamily: FF, padding: [0, 0, 0, 5],
      rich: {r: {fontSize: 16, lineHeight: 19.86, fontWeight: 'bold', color: TITLE, fontFamily: FF}}}}),
  Object.assign({}, legBase, {left: 721.5, top: 359.5, itemWidth: 14, itemHeight: 3, data: gseaNames.slice(0, 5),
    textStyle: {fontSize: 16, lineHeight: 21.5, color: TXT, fontFamily: FF, padding: [0, 0, 0, 1]}}),
  Object.assign({}, legBase, {left: 507, top: 593.5, itemWidth: 14, itemHeight: 3, data: gseaNames.slice(5),
    textStyle: {fontSize: 16, lineHeight: 21.5, color: TXT, fontFamily: FF, padding: [0, 0, 0, 1]}}),
  {selectedMode: false, orient: 'horizontal', icon: 'rect', padding: 0, left: 639, top: 962, itemWidth: 20, itemHeight: 20, itemGap: 17,
    data: groupNames, itemStyle: {borderColor: '#000', borderWidth: 1.5},
    textStyle: {fontSize: 16, color: TXT, fontFamily: FF}}
];

/* ================= TEXT (titles / panel letters) ================= */
function title(text, x, y, rot) {
  return {type: 'text', x, y, rotation: rot ? Math.PI / 2 : 0, silent: true,
    style: {text, fill: TITLE, fontSize: 15, fontWeight: 'bold', fontFamily: FF, align: 'center', verticalAlign: 'middle'}};
}
function letter(text, x, y, align) {
  return {type: 'text', x, y, silent: true, style: {text, fill: '#000', fontSize: 20, fontWeight: 'bold', fontFamily: FF, align: align || 'center', verticalAlign: 'middle'}};
}
const graphics = [
  letter('A', 20.5, 19), letter('B', 20, 338), letter('C', 440, 340), letter('D', 7, 1005, 'right'), letter('E', 7, 1250, 'right'),
  title('Coefficients', 28, 153, true),
  title('Lambda (log scale)', 212, 327),
  title('Partial Likelihood Deviance', 580, 152, true),
  title('Log Lambda', 771, 327),
  title('Hazard Ratios', 242, 977),
  title('Running Enrichment Score', 440, 540, true),
  title('Rank in Ordered Dataset', 758, 935),
  title(immuneNames[0], 27, 1110, true),
  title(immuneNames[1], 273, 1110, true),
  title(immuneNames[2], 532, 1110, true),
  title(immuneNames[3], 801, 1110, true),
  title(scoreNames[0], 25, 1357, true),
  title(scoreNames[1], 272, 1357, true),
  title(scoreNames[2], 532, 1357, true),
  title(scoreNames[3], 781, 1357, true)
];

const option = {
  animation: false,
  backgroundColor: '#ffffff',
  textStyle: {fontFamily: FF},
  grid: grids,
  xAxis: xAxes,
  yAxis: yAxes,
  legend: legends,
  series,
  graphic: graphics
};

const chart = echarts.init(document.getElementById('chart'), null, {renderer: 'canvas', width: 1034, height: 1477});
chart.setOption(option);
</script>
</body>
</html>
